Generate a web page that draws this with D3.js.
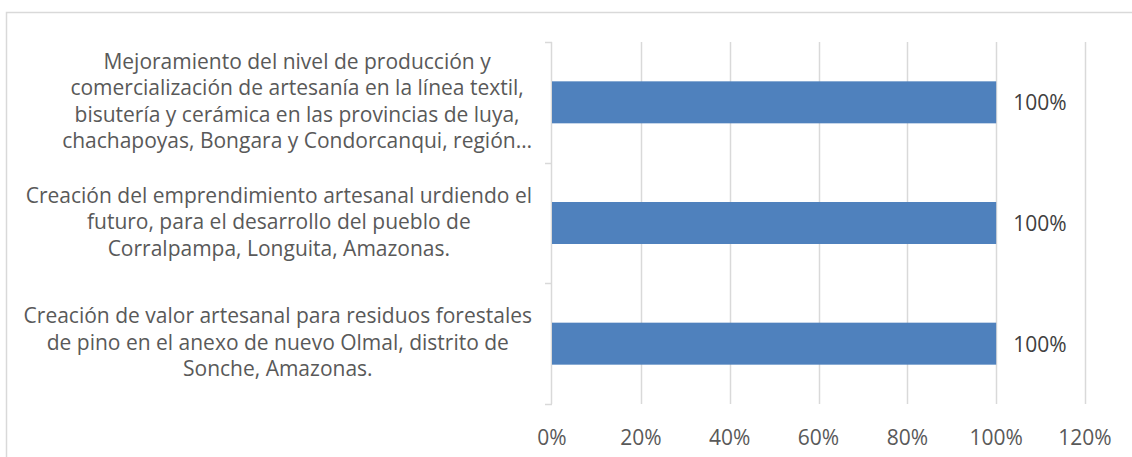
<!DOCTYPE html>
<html>
<head>
<meta charset="utf-8">
<script src="https://cdn.jsdelivr.net/npm/d3@7"></script>
<style>
  html, body { margin: 0; padding: 0; background: #fff; }
  svg { display: block; }
</style>
</head>
<body>
<div id="chart"></div>
<script>
'use strict';

// categories, top to bottom, already broken into the lines shown
const categoryLines = [
    ['Mejoramiento del nivel de producción y',
     'comercialización de artesanía en la línea textil,',
     'bisutería y cerámica en las provincias de luya,',
     'chachapoyas, Bongara y Condorcanqui, región…'],
    ['Creación del emprendimiento artesanal urdiendo el',
     'futuro, para el desarrollo del pueblo de',
     'Corralpampa, Longuita, Amazonas.'],
    ['Creación de valor artesanal para residuos forestales',
     'de pino en el anexo de nuevo Olmal, distrito de',
     'Sonche, Amazonas.']
];
const values = [1, 1, 1];
const xTicks = [0, 0.2, 0.4, 0.6, 0.8, 1.0, 1.2];

const W = 1132, H = 457;
const FONT = "'Open Sans', sans-serif";
const FS = 21;
const plot = { left: 552, right: 1085, top: 42, bottom: 404 };

const svg = d3.select('#chart').append('svg')
    .attr('width', W)
    .attr('height', H);

// chart frame
svg.append('rect')
    .attr('x', 6.5).attr('y', 12.5)
    .attr('width', W).attr('height', H)
    .attr('fill', 'none')
    .attr('stroke', '#d9d9d9')
    .attr('stroke-width', 1.5);

const x = d3.scaleLinear().domain([0, 1.2]).range([plot.left, plot.right]);
const keys = categoryLines.map((d, i) => i);
const y = d3.scaleBand().domain(keys).range([plot.top, plot.bottom])
    .paddingInner(0.652).paddingOuter(0.326);

// vertical gridlines
svg.append('g').selectAll('line')
    .data(xTicks.slice(1))
    .join('line')
    .attr('x1', d => Math.round(x(d)) + 0.5)
    .attr('x2', d => Math.round(x(d)) + 0.5)
    .attr('y1', plot.top).attr('y2', plot.bottom)
    .attr('stroke', '#d9d9d9').attr('stroke-width', 1.5);

// category axis line with tick marks at band edges
const edges = keys.map(k => y(k) - y.step() * y.paddingInner() / 2).concat([plot.bottom]);
const axisG = svg.append('g').attr('stroke', '#d9d9d9').attr('stroke-width', 1.5);
axisG.append('line')
    .attr('x1', x(0) - 0.5).attr('x2', x(0) - 0.5)
    .attr('y1', plot.top).attr('y2', plot.bottom);
axisG.selectAll('.tk')
    .data(edges)
    .join('line')
    .attr('class', 'tk')
    .attr('x1', x(0) - 7).attr('x2', x(0))
    .attr('y1', d => Math.round(d) + 0.5)
    .attr('y2', d => Math.round(d) + 0.5);

// bars
svg.append('g').selectAll('rect')
    .data(values)
    .join('rect')
    .attr('x', x(0))
    .attr('y', (d, i) => y(i))
    .attr('width', d => x(d) - x(0))
    .attr('height', y.bandwidth())
    .attr('fill', '#4f81bd');

// data labels
svg.append('g').selectAll('text')
    .data(values)
    .join('text')
    .attr('x', d => x(d) + 17)
    .attr('y', (d, i) => y(i) + y.bandwidth() / 2)
    .attr('dominant-baseline', 'central')
    .attr('font-family', FONT)
    .attr('font-size', FS)
    .attr('fill', '#404040')
    .text(d => d3.format('.0%')(d));

// x tick labels
svg.append('g').selectAll('text')
    .data(xTicks)
    .join('text')
    .attr('x', d => x(d))
    .attr('y', 437)
    .attr('text-anchor', 'middle')
    .attr('dominant-baseline', 'central')
    .attr('font-family', FONT)
    .attr('font-size', FS)
    .attr('fill', '#595959')
    .text(d => d3.format('.0%')(d));

// category labels: each block centred on its widest line, right edge near the axis
const LINE_H = 26.5;
const labelRight = x(0) - 20;
categoryLines.forEach((lines, i) => {
    const g = svg.append('g');
    const cy = y(i) + y.bandwidth() / 2 - 2;
    const texts = g.selectAll('text')
        .data(lines)
        .join('text')
        .attr('y', (d, j) => cy + (j - (lines.length - 1) / 2) * LINE_H)
        .attr('text-anchor', 'middle')
        .attr('dominant-baseline', 'central')
        .attr('font-family', FONT)
        .attr('font-size', FS)
        .attr('fill', '#595959')
        .text(d => d);
    const maxW = d3.max(texts.nodes(), n => n.getComputedTextLength());
    texts.attr('x', labelRight - maxW / 2);
});
</script>
</body>
</html>
